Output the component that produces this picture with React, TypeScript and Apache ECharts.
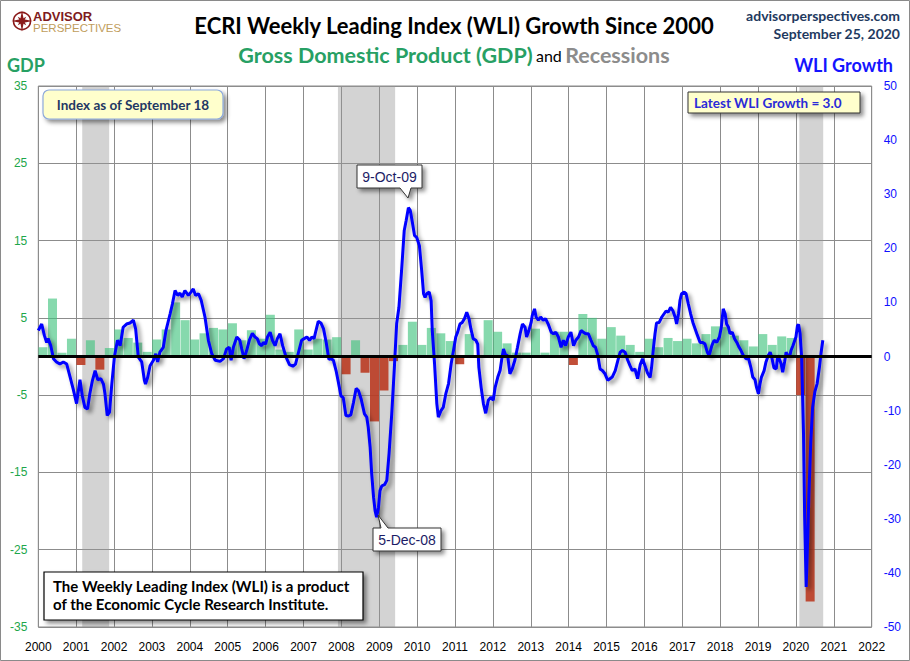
import React, { useEffect, useRef } from "react";
import * as echarts from "echarts";

// ---------- DATA ----------
const firstYear = 2000;
const xMin = 2000;
const xMax = 2022;

// Real GDP, quarterly annualized growth (%), 2000Q1 .. 2020Q2
const gdpGrowth = [
  1.2, 7.5, 0.5, 2.3, // 2000
  -1.1, 2.1, -1.7, 1.1, // 2001
  3.5, 2.4, 1.8, 0.6, // 2002
  2.2, 3.5, 7.0, 4.7, // 2003
  2.2, 3.0, 3.7, 3.5, // 2004
  4.3, 2.1, 3.4, 2.3, // 2005
  5.4, 0.9, 0.6, 3.5, // 2006
  0.9, 2.3, 2.2, 2.5, // 2007
  -2.3, 2.1, -2.1, -8.4, // 2008
  -4.4, -0.6, 1.5, 4.5, // 2009
  1.5, 3.7, 3.0, 2.0, // 2010
  -1.0, 2.9, -0.1, 4.7, // 2011
  3.2, 1.7, 0.5, 0.5, // 2012
  3.6, 0.5, 3.2, 3.2, // 2013
  -1.1, 5.5, 5.0, 2.3, // 2014
  3.8, 2.7, 1.5, 0.6, // 2015
  2.3, 1.2, 2.4, 2.0, // 2016
  2.3, 1.7, 2.9, 3.9, // 2017
  3.8, 2.7, 2.1, 1.3, // 2018
  2.9, 1.5, 2.6, 2.4, // 2019
  -5.0, -31.7, // 2020
];

// Recessions (decimal years)
const recessionStarts = [2001.16, 2007.91, 2020.09];
const recessionEnds = [2001.87, 2009.42, 2020.72];

// ECRI WLI growth (%), decimal year dates
const wliDates = [
  2000.0, 2000.09, 2000.16, 2000.22, 2000.26, 2000.33, 2000.4, 2000.48, 2000.57, 2000.66,
  2000.75, 2000.84, 2000.92, 2001.01, 2001.1, 2001.16, 2001.23, 2001.3, 2001.36, 2001.43,
  2001.5, 2001.57, 2001.65, 2001.72, 2001.76, 2001.82, 2001.88, 2001.94, 2002.01, 2002.09,
  2002.16, 2002.24, 2002.33, 2002.42, 2002.51, 2002.57, 2002.64, 2002.73, 2002.8, 2002.83,
  2002.89, 2002.95, 2003.04, 2003.1, 2003.15, 2003.21, 2003.3, 2003.37, 2003.48, 2003.54,
  2003.61, 2003.68, 2003.74, 2003.8, 2003.87, 2003.96, 2004.03, 2004.09, 2004.15, 2004.23,
  2004.3, 2004.4, 2004.49, 2004.58, 2004.67, 2004.8, 2004.89, 2004.97, 2005.04, 2005.09,
  2005.15, 2005.24, 2005.32, 2005.37, 2005.43, 2005.5, 2005.57, 2005.65, 2005.72, 2005.78,
  2005.84, 2005.9, 2005.94, 2006.0, 2006.05, 2006.12, 2006.18, 2006.25, 2006.31, 2006.38,
  2006.45, 2006.54, 2006.63, 2006.72, 2006.79, 2006.87, 2006.95, 2007.02, 2007.09, 2007.16,
  2007.22, 2007.28, 2007.33, 2007.39, 2007.46, 2007.53, 2007.6, 2007.67, 2007.73, 2007.79,
  2007.86, 2007.92, 2007.99, 2008.05, 2008.12, 2008.19, 2008.25, 2008.32, 2008.39, 2008.45,
  2008.52, 2008.61, 2008.67, 2008.71, 2008.76, 2008.8, 2008.85, 2008.89, 2008.93, 2008.98,
  2009.02, 2009.07, 2009.14, 2009.2, 2009.26, 2009.33, 2009.4, 2009.46, 2009.52, 2009.59,
  2009.66, 2009.71, 2009.77, 2009.82, 2009.88, 2009.93, 2009.99, 2010.06, 2010.12, 2010.17,
  2010.21, 2010.25, 2010.32, 2010.37, 2010.4, 2010.46, 2010.52, 2010.56, 2010.63, 2010.69,
  2010.76, 2010.83, 2010.9, 2010.96, 2011.02, 2011.07, 2011.13, 2011.19, 2011.25, 2011.31,
  2011.37, 2011.42, 2011.48, 2011.55, 2011.6, 2011.63, 2011.69, 2011.75, 2011.81, 2011.88,
  2011.95, 2012.01, 2012.06, 2012.13, 2012.19, 2012.23, 2012.28, 2012.34, 2012.39, 2012.45,
  2012.51, 2012.58, 2012.65, 2012.72, 2012.78, 2012.85, 2012.89, 2012.95, 2013.01, 2013.04,
  2013.1, 2013.14, 2013.2, 2013.26, 2013.33, 2013.39, 2013.46, 2013.54, 2013.6, 2013.66,
  2013.73, 2013.8, 2013.86, 2013.92, 2013.99, 2014.06, 2014.13, 2014.19, 2014.26, 2014.33,
  2014.39, 2014.45, 2014.52, 2014.59, 2014.65, 2014.71, 2014.77, 2014.83, 2014.89, 2014.96,
  2015.03, 2015.09, 2015.15, 2015.23, 2015.3, 2015.36, 2015.42, 2015.49, 2015.56, 2015.62,
  2015.68, 2015.75, 2015.82, 2015.89, 2015.95, 2016.02, 2016.08, 2016.15, 2016.19, 2016.24,
  2016.28, 2016.32, 2016.39, 2016.46, 2016.52, 2016.57, 2016.63, 2016.69, 2016.75, 2016.81,
  2016.85, 2016.9, 2016.94, 2016.98, 2017.05, 2017.1, 2017.16, 2017.22, 2017.28, 2017.34,
  2017.4, 2017.47, 2017.54, 2017.6, 2017.66, 2017.71, 2017.78, 2017.84, 2017.91, 2017.98,
  2018.03, 2018.08, 2018.13, 2018.17, 2018.22, 2018.26, 2018.32, 2018.38, 2018.44, 2018.5,
  2018.55, 2018.61, 2018.68, 2018.75, 2018.81, 2018.86, 2018.92, 2018.96, 2019.01, 2019.05,
  2019.09, 2019.16, 2019.21, 2019.27, 2019.32, 2019.36, 2019.42, 2019.48, 2019.52, 2019.56,
  2019.61, 2019.65, 2019.7, 2019.74, 2019.78, 2019.83, 2019.87, 2019.92, 2019.95, 2020.0,
  2020.04, 2020.07, 2020.11, 2020.15, 2020.2, 2020.23, 2020.27, 2020.3, 2020.34, 2020.39,
  2020.44, 2020.5, 2020.56, 2020.62, 2020.66, 2020.71,
];
const wliValues = [
  4.8, 6.0, 3.9, 2.6, 3.3, 2.0, -0.4, -1.0, -1.4, -1.0,
  -1.4, -3.8, -6.0, -8.7, -4.3, -7.2, -9.4, -9.7, -6.9, -4.4,
  -2.6, -4.3, -4.1, -5.1, -6.9, -10.9, -10.3, -5.1, 0.0, 3.0,
  2.0, 5.4, 6.0, 6.2, 6.7, 5.1, -0.1, -1.0, -4.4, -5.1,
  -3.8, -1.7, -0.7, 0.5, -1.0, 0.8, 1.7, 4.8, 7.9, 9.7,
  12.2, 11.3, 11.7, 11.0, 12.2, 11.3, 11.9, 12.5, 11.3, 11.6,
  10.4, 7.3, 3.0, 0.5, -0.7, -0.9, -0.4, 1.4, 1.7, -0.7,
  1.7, 3.6, 3.0, 1.4, -0.4, 1.1, 3.0, 4.3, 3.6, 3.3,
  2.3, 2.0, 2.6, 2.3, 3.6, 4.5, 3.0, 2.0, 3.3, 4.2,
  2.0, -0.1, -1.5, -1.8, -1.4, 0.8, 3.0, 3.3, 3.6, 3.0,
  3.6, 3.3, 4.8, 6.5, 6.2, 5.1, 2.6, -0.5, -0.4, -0.7,
  -2.6, -4.7, -7.3, -7.6, -10.9, -11.0, -10.8, -8.5, -5.9, -6.3,
  -7.8, -10.6, -11.2, -13.1, -16.8, -21.6, -26.0, -28.5, -29.7, -27.9,
  -24.8, -23.9, -23.7, -22.9, -17.9, -10.6, -2.0, 6.1, 9.1, 15.9,
  23.3, 25.1, 27.5, 27.0, 24.6, 22.4, 22.0, 20.5, 15.9, 11.6,
  10.9, 11.6, 11.9, 10.3, 4.8, -1.3, -8.7, -11.2, -10.0, -9.4,
  -6.8, -5.0, -1.3, 1.1, 3.6, 4.5, 6.0, 6.3, 7.0, 8.2,
  7.0, 5.1, 3.3, 3.0, 2.3, -2.0, -5.7, -8.7, -10.5, -8.1,
  -7.5, -8.1, -5.7, -3.8, -2.6, -0.7, 1.4, 0.2, 0.2, -3.2,
  -2.3, -0.7, 1.7, 4.2, 6.0, 5.4, 3.6, 4.8, 6.3, 7.6,
  8.8, 7.3, 6.7, 7.3, 6.7, 7.0, 6.0, 4.5, 4.2, 4.5,
  3.6, 1.7, 3.0, 2.0, 3.6, 4.5, 2.0, 3.0, 3.6, 4.8,
  4.5, 4.2, 4.2, 3.0, 2.0, 1.7, 0.2, -2.3, -2.6, -3.2,
  -4.4, -4.1, -3.8, -2.6, -0.7, 0.8, 1.1, 0.8, -0.7, -1.7,
  -2.6, -2.3, -4.1, -1.5, -0.4, -1.8, -3.0, -3.9, -2.0, 1.7,
  4.2, 6.2, 6.3, 7.3, 7.9, 8.4, 8.2, 9.1, 8.5, 7.3,
  6.0, 7.9, 10.4, 11.6, 11.9, 11.6, 9.7, 7.9, 6.3, 5.1,
  3.9, 2.6, 2.6, 2.3, 0.8, 0.2, 2.0, 3.0, 2.6, 3.6,
  5.4, 8.8, 7.9, 6.0, 5.4, 4.2, 4.5, 3.3, 2.6, 1.7,
  1.1, 0.2, -0.4, -0.4, -2.0, -3.8, -4.3, -5.7, -6.9, -5.1,
  -3.8, -2.6, -1.0, 0.2, 0.8, -0.1, -2.1, -2.3, 0.2, -0.4,
  -1.4, -2.9, -1.0, 0.8, 0.2, -0.1, 1.1, 2.0, 2.6, 3.6,
  5.7, 5.9, 4.2, -0.1, -14.3, -29.7, -42.6, -36.0, -26.0, -16.0,
  -9.4, -6.5, -5.0, -2.0, 0.5, 3.0,
];

// Annotations
const peakLabel = "9-Oct-09";
const troughLabel = "5-Dec-08";
const latestLabel = "Latest WLI Growth = 3.0";
const indexLabel = "Index as of September 18";

// ---------- STYLE ----------
const FONT = "Lato, 'Open Sans', sans-serif";
const ARIAL = "'Liberation Sans', Arial, sans-serif";
const GREEN_BAR = "rgba(66,196,126,0.64)";
const RED_BAR = "rgba(185,55,30,0.88)";

function starPoints(cx: number, cy: number, rOut: number, rIn: number, n: number) {
  const pts: number[][] = [];
  for (let i = 0; i < n * 2; i++) {
    const r = i % 2 === 0 ? rOut : rIn;
    const a = (Math.PI * i) / n - Math.PI / 2;
    pts.push([cx + r * Math.cos(a), cy + r * Math.sin(a)]);
  }
  return pts;
}

export default function App() {
  const ref = useRef<HTMLDivElement>(null);

  useEffect(() => {
    if (!ref.current) return;
    const chart = echarts.init(ref.current, undefined, { renderer: "svg" });

    const barData = gdpGrowth.map((v, i) => ({
      value: [firstYear + Math.floor(i / 4) + (i % 4) * 0.25 + 0.125, v],
      itemStyle: { color: v >= 0 ? GREEN_BAR : RED_BAR },
    }));
    const lineData = wliDates.map((d, i) => [d, wliValues[i]]);

    const shadow = { shadowColor: "rgba(0,0,0,0.45)", shadowBlur: 4, shadowOffsetX: 3, shadowOffsetY: 3 };

    const option: any = {
      animation: false,
      backgroundColor: "#ffffff",
      grid: {
        left: 38.3,
        right: 38.3,
        top: 86,
        bottom: 34,
        show: true,
        borderColor: "#8a8a8a",
        borderWidth: 1,
        backgroundColor: "transparent",
      },
      xAxis: {
        type: "value",
        min: xMin,
        max: xMax,
        interval: 1,
        axisLine: { show: false },
        axisTick: { show: false },
        splitLine: { show: true, lineStyle: { color: "#8c8c8c", width: 1 } },
        axisLabel: {
          color: "#000",
          fontSize: 12,
          fontFamily: ARIAL,
          margin: 14,
          showMinLabel: true,
          showMaxLabel: true,
          formatter: (v: number) => String(Math.round(v)),
        },
      },
      yAxis: [
        {
          type: "value",
          min: -35,
          max: 35,
          interval: 10,
          position: "left",
          axisLine: { show: false },
          axisTick: { show: false },
          splitLine: { show: true, lineStyle: { color: "#8c8c8c", width: 1 } },
          axisLabel: { color: "#1da64a", fontSize: 12, margin: 11, fontFamily: ARIAL, showMinLabel: true, showMaxLabel: true },
        },
        {
          type: "value",
          min: -50,
          max: 50,
          interval: 10,
          position: "right",
          axisLine: { show: false },
          axisTick: { show: false },
          splitLine: { show: false },
          axisLabel: { color: "#1010ff", fontSize: 12, margin: 12, fontFamily: ARIAL, showMinLabel: true, showMaxLabel: true },
        },
      ],
      series: [
        {
          name: "Recessions",
          type: "line",
          data: [],
          z: 1,
          silent: true,
          markArea: {
            silent: true,
            itemStyle: { color: "rgba(150,150,150,0.42)" },
            label: { show: false },
            data: recessionStarts.map((s, i) => [{ xAxis: s }, { xAxis: recessionEnds[i] }]),
          },
        },
        {
          name: "GDP",
          type: "bar",
          yAxisIndex: 0,
          barWidth: 9,
          z: 2,
          data: barData,
          markLine: {
            silent: true,
            symbol: "none",
            label: { show: false },
            lineStyle: { color: "#000", width: 3, type: "solid" },
            data: [{ yAxis: 0 }],
          },
        },
        {
          name: "WLI Growth",
          type: "line",
          yAxisIndex: 1,
          z: 3,
          showSymbol: false,
          data: lineData,
          lineStyle: { color: "#0000ff", width: 3, ...shadow },
        },
      ],
      graphic: [
        // outer border
        { type: "rect", shape: { x: 0.5, y: 0.5, width: 909, height: 660 }, style: { fill: "none", stroke: "#8a8a8a", lineWidth: 1 }, silent: true, z: 100 },
        // logo
        { type: "circle", shape: { cx: 22, cy: 21, r: 8.5 }, style: { fill: "none", stroke: "#8b1a1a", lineWidth: 1.6 }, z: 100 },
        { type: "polygon", shape: { points: starPoints(22, 21, 10.5, 2.4, 4) }, style: { fill: "#8b1a1a" }, z: 100 },
        {
          type: "polygon",
          shape: {
            points: starPoints(22, 21, 6, 2, 4).map((p) => {
              const a = Math.PI / 4;
              const dx = p[0] - 22, dy = p[1] - 21;
              return [22 + dx * Math.cos(a) - dy * Math.sin(a), 21 + dx * Math.sin(a) + dy * Math.cos(a)];
            }),
          },
          style: { fill: "#8b1a1a" },
          z: 100,
        },
        { type: "text", style: { text: "ADVISOR", x: 33, y: 16, textVerticalAlign: "middle", font: `bold 13px ${ARIAL}`, fill: "#7e1b20" }, z: 100 },
        { type: "text", style: { text: "PERSPECTIVES", x: 33, y: 28, textVerticalAlign: "middle", font: `11.5px ${ARIAL}`, fill: "#bf9d5c" }, z: 100 },
        // titles
        { type: "text", style: { text: "ECRI Weekly Leading Index (WLI) Growth Since 2000", x: 454, y: 25, textAlign: "center", textVerticalAlign: "middle", font: `bold 22px ${FONT}`, fill: "#000" }, z: 100 },
        {
          type: "text",
          style: {
            text: "{g|Gross Domestic Product (GDP)} {a|and} {r|Recessions}",
            x: 454,
            y: 55,
            textAlign: "center",
            textVerticalAlign: "middle",
            rich: {
              g: { font: `bold 21.5px ${FONT}`, fill: "#27a064" },
              a: { font: `16px ${FONT}`, fill: "#000" },
              r: { font: `bold 21.5px ${FONT}`, fill: "#8c8c8c" },
            },
          },
          z: 100,
        },
        { type: "text", style: { text: "advisorperspectives.com", x: 900, y: 15, textAlign: "right", textVerticalAlign: "middle", font: `bold 14px ${FONT}`, fill: "#1f3a5f" }, z: 100 },
        { type: "text", style: { text: "September 25, 2020", x: 900, y: 33, textAlign: "right", textVerticalAlign: "middle", font: `bold 14px ${FONT}`, fill: "#1f3a5f" }, z: 100 },
        { type: "text", style: { text: "GDP", x: 7, y: 65, textVerticalAlign: "middle", font: `bold 18px ${FONT}`, fill: "#27a064" }, z: 100 },
        { type: "text", style: { text: "WLI Growth", x: 893, y: 65, textAlign: "right", textVerticalAlign: "middle", font: `bold 18px ${FONT}`, fill: "#1414ff" }, z: 100 },
        // index box
        { type: "rect", shape: { x: 43, y: 90, width: 180, height: 29, r: 6 }, style: { fill: "#ffffcc", stroke: "#8eaadb", lineWidth: 1.2, ...shadow }, z: 100 },
        { type: "text", style: { text: indexLabel, x: 133, y: 105, textAlign: "center", textVerticalAlign: "middle", font: `bold 13.5px ${FONT}`, fill: "#1f3864" }, z: 101 },
        // latest box
        { type: "rect", shape: { x: 688, y: 92, width: 172, height: 21 }, style: { fill: "#ffffcc", stroke: "#333", lineWidth: 1, ...shadow }, z: 100 },
        { type: "text", style: { text: latestLabel, x: 694, y: 102.5, textVerticalAlign: "middle", font: `bold 13.5px ${FONT}`, fill: "#2a2ad8" }, z: 101 },
        // peak callout
        {
          type: "polygon",
          shape: { points: [[357, 165], [422, 165], [422, 188], [411, 188], [408, 198], [400, 188], [357, 188]] },
          style: { fill: "#fff", stroke: "#333", lineWidth: 1, ...shadow },
          z: 100,
        },
        { type: "text", style: { text: peakLabel, x: 389.5, y: 176.5, textAlign: "center", textVerticalAlign: "middle", font: `14px ${ARIAL}`, fill: "#1c1c66" }, z: 101 },
        // trough callout
        {
          type: "polygon",
          shape: { points: [[373, 528], [381, 528], [378, 515], [388, 528], [441, 528], [441, 551], [373, 551]] },
          style: { fill: "#fff", stroke: "#333", lineWidth: 1, ...shadow },
          z: 100,
        },
        { type: "text", style: { text: troughLabel, x: 407, y: 540, textAlign: "center", textVerticalAlign: "middle", font: `14px ${ARIAL}`, fill: "#1c1c66" }, z: 101 },
        // source box
        { type: "rect", shape: { x: 44, y: 572, width: 319, height: 48 }, style: { fill: "#fff", stroke: "#000", lineWidth: 1.2, ...shadow }, z: 100 },
        { type: "text", style: { text: "The Weekly Leading Index (WLI) is a product", x: 53, y: 585.5, textVerticalAlign: "middle", font: `bold 15px ${FONT}`, fill: "#000" }, z: 101 },
        { type: "text", style: { text: "of the Economic Cycle Research Institute.", x: 53, y: 604, textVerticalAlign: "middle", font: `bold 15px ${FONT}`, fill: "#000" }, z: 101 },
      ],
    };

    chart.setOption(option);
    return () => chart.dispose();
  }, []);

  return (
    <div
      ref={ref}
      style={{ position: "fixed", left: 0, top: 0, width: 910, height: 661, background: "#fff" }}
    />
  );
}
